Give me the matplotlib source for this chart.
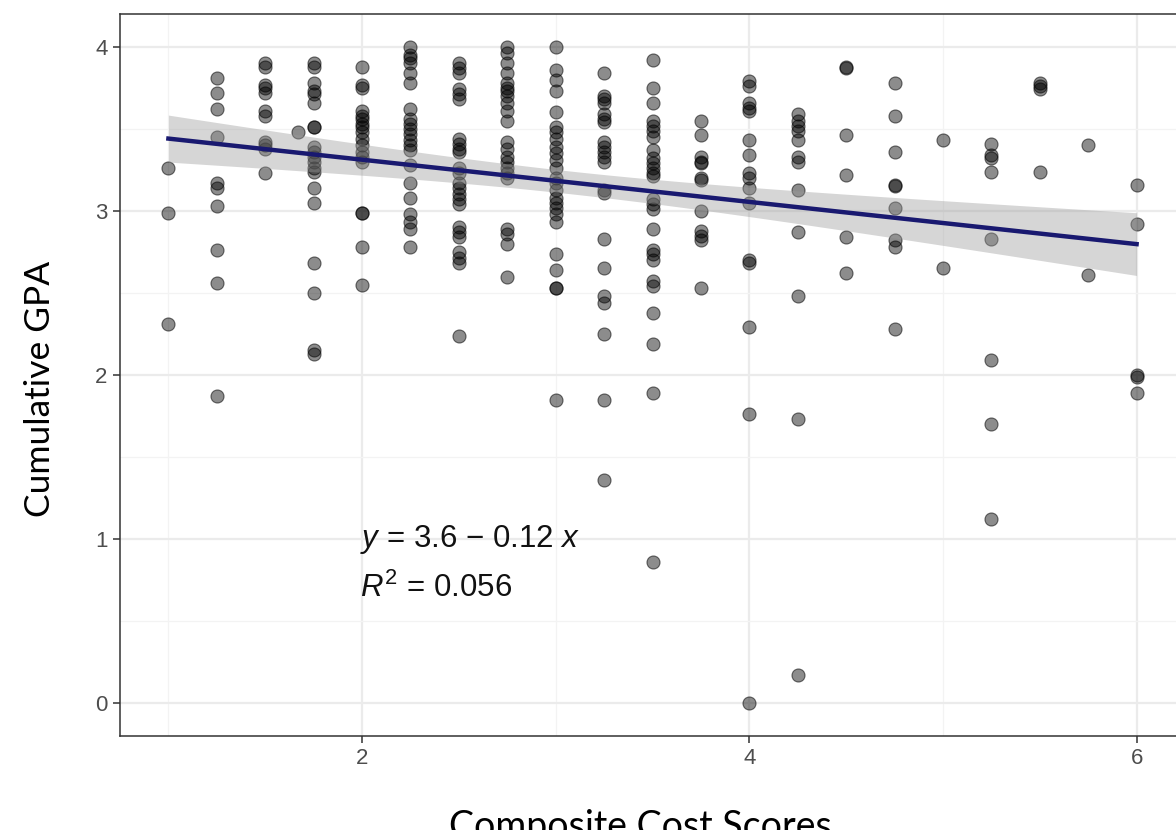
import numpy as np
import matplotlib
matplotlib.use("Agg")
import matplotlib.pyplot as plt
from matplotlib.ticker import MultipleLocator

# ---- data: Composite Cost Score -> observed Cumulative GPA values ----
scores = [1.0, 1.25, 1.5, 1.667, 1.75, 2.0, 2.25, 2.5, 2.75, 3.0, 3.25, 3.5,
          3.75, 4.0, 4.25, 4.5, 4.75, 5.0, 5.25, 5.5, 5.75, 6.0]
gpa_100 = [3.26, 2.99, 2.31]
gpa_125 = [3.81, 3.72, 3.62, 3.45, 3.17, 3.14, 3.03, 2.76, 2.56, 1.87]
gpa_150 = [3.90, 3.88, 3.77, 3.75, 3.72, 3.61, 3.58, 3.42, 3.40, 3.38, 3.23]
gpa_167 = [3.48]
gpa_175 = [3.90, 3.88, 3.78, 3.73, 3.71, 3.66, 3.51, 3.51, 3.39, 3.36, 3.33,
           3.30, 3.26, 3.24, 3.14, 3.05, 2.68, 2.50, 2.15, 2.13]
gpa_200 = [3.88, 3.77, 3.75, 3.61, 3.58, 3.56, 3.53, 3.51, 3.48, 3.44, 3.40,
           3.36, 3.33, 3.30, 2.99, 2.99, 2.78, 2.55]
gpa_225 = [4.00, 3.95, 3.93, 3.90, 3.84, 3.78, 3.62, 3.56, 3.53, 3.50, 3.47,
           3.43, 3.40, 3.37, 3.28, 3.17, 3.08, 2.98, 2.93, 2.89, 2.78]
gpa_250 = [3.90, 3.87, 3.84, 3.74, 3.71, 3.68, 3.44, 3.41, 3.38, 3.36, 3.26,
           3.23, 3.17, 3.14, 3.10, 3.07, 3.04, 2.90, 2.87, 2.84, 2.75, 2.71,
           2.68, 2.24]
gpa_275 = [4.00, 3.96, 3.90, 3.84, 3.78, 3.75, 3.73, 3.70, 3.66, 3.61, 3.55,
           3.42, 3.38, 3.33, 3.30, 3.26, 3.23, 3.20, 2.89, 2.86, 2.80, 2.60]
gpa_300 = [4.00, 3.86, 3.80, 3.73, 3.60, 3.51, 3.48, 3.44, 3.39, 3.35, 3.31,
           3.26, 3.20, 3.17, 3.13, 3.08, 3.05, 3.02, 2.98, 2.93, 2.74, 2.64,
           2.53, 2.53, 1.85]
gpa_325 = [3.84, 3.70, 3.68, 3.66, 3.59, 3.56, 3.54, 3.42, 3.39, 3.36, 3.33,
           3.30, 3.13, 3.11, 2.83, 2.65, 2.48, 2.44, 2.25, 1.85, 1.36]
gpa_350 = [3.92, 3.75, 3.66, 3.55, 3.52, 3.49, 3.45, 3.37, 3.32, 3.29, 3.26,
           3.23, 3.21, 3.07, 3.04, 3.01, 2.89, 2.76, 2.74, 2.70, 2.57, 2.54,
           2.38, 2.19, 1.89, 0.86]
gpa_375 = [3.55, 3.46, 3.33, 3.30, 3.29, 3.20, 3.19, 3.00, 2.88, 2.85, 2.82, 2.53]
gpa_400 = [3.79, 3.76, 3.66, 3.63, 3.61, 3.43, 3.34, 3.23, 3.20, 3.14, 3.05,
           2.70, 2.68, 2.29, 1.76, 0.00]
gpa_425 = [3.59, 3.55, 3.52, 3.49, 3.43, 3.33, 3.30, 3.13, 2.87, 2.48, 1.73, 0.17]
gpa_450 = [3.88, 3.87, 3.46, 3.22, 2.84, 2.62]
gpa_475 = [3.78, 3.58, 3.36, 3.16, 3.15, 3.02, 2.82, 2.78, 2.28]
gpa_500 = [3.43, 2.65]
gpa_525 = [3.41, 3.34, 3.32, 3.24, 2.83, 2.09, 1.70, 1.12]
gpa_550 = [3.78, 3.76, 3.74, 3.24]
gpa_575 = [3.40, 2.61]
gpa_600 = [3.16, 2.92, 2.00, 1.99, 1.89]

gpa_columns = [gpa_100, gpa_125, gpa_150, gpa_167, gpa_175, gpa_200, gpa_225,
               gpa_250, gpa_275, gpa_300, gpa_325, gpa_350, gpa_375, gpa_400,
               gpa_425, gpa_450, gpa_475, gpa_500, gpa_525, gpa_550, gpa_575,
               gpa_600]

x_ticks = [2, 4, 6]
y_ticks = [0, 1, 2, 3, 4]
x_label = "Composite Cost Scores"
y_label = "Cumulative GPA"
eq_text = r"$y$ = 3.6 $-$ 0.12 $x$"
r2_text = r"$R^2$ = 0.056"

# ---- build arrays ----
x = np.concatenate([[s] * len(c) for s, c in zip(scores, gpa_columns)])
y = np.concatenate(gpa_columns)

# linear fit with 95% confidence band
n = len(x)
b1, b0 = np.polyfit(x, y, 1)
xs = np.linspace(x.min(), x.max(), 100)
yhat = b0 + b1 * xs
resid = y - (b0 + b1 * x)
s_err = np.sqrt(np.sum(resid ** 2) / (n - 2))
t = 1.97
se = s_err * np.sqrt(1 / n + (xs - x.mean()) ** 2 / np.sum((x - x.mean()) ** 2))

plt.rcParams['mathtext.fontset'] = 'custom'
plt.rcParams['mathtext.rm'] = 'Liberation Sans'
plt.rcParams['mathtext.it'] = 'Liberation Sans:italic'

fig = plt.figure(figsize=(11.76, 8.30), dpi=100)
W, H = 1176, 830
left, right, top, bottom = 120, 1185, 14, 736
ax = fig.add_axes([left / W, 1 - bottom / H, (right - left) / W, (bottom - top) / H])

ax.set_xlim(0.75, 6.25)
ax.set_ylim(-0.2, 4.2)
ax.xaxis.set_minor_locator(MultipleLocator(1))
ax.yaxis.set_minor_locator(MultipleLocator(0.5))
ax.set_xticks(x_ticks)
ax.set_yticks(y_ticks)
ax.grid(which='major', color='#EBEBEB', linewidth=1.6, zorder=0)
ax.grid(which='minor', color='#F3F3F3', linewidth=0.9, zorder=0)
ax.set_axisbelow(True)

ax.scatter(x, y, s=88, facecolor=(0, 0, 0, 0.45), edgecolor=(0, 0, 0, 0.55),
           linewidth=0.8, zorder=3)
ax.fill_between(xs, yhat - t * se, yhat + t * se, color='#999999', alpha=0.4,
                linewidth=0, zorder=4)
ax.plot(xs, yhat, color='#191970', linewidth=3.2, zorder=5)

ax.text(1.99, 0.95, eq_text, fontsize=22.5, family='Liberation Sans',
        color='#111111', ha='left', va='baseline')
ax.text(1.99, 0.645, r2_text, fontsize=22.5, family='Liberation Sans',
        color='#111111', ha='left', va='baseline')

for sp in ax.spines.values():
    sp.set_color('#333333')
    sp.set_linewidth(1.1)
ax.tick_params(which='major', length=5, width=1.1, color='#333333',
               labelsize=16, labelcolor='#4D4D4D', pad=4)
ax.tick_params(which='minor', length=0)
for lab in ax.get_xticklabels() + ax.get_yticklabels():
    lab.set_family('Liberation Sans')

fig.text(640 / W, 1 - 838 / H, x_label, fontsize=27, family='Lato',
         ha='center', va='baseline', color='black')
fig.text(40 / W, 1 - 389 / H, y_label, fontsize=25.5, family='Lato',
         ha='center', va='center', rotation=90, color='black')

fig.savefig("out.png", dpi=100)
